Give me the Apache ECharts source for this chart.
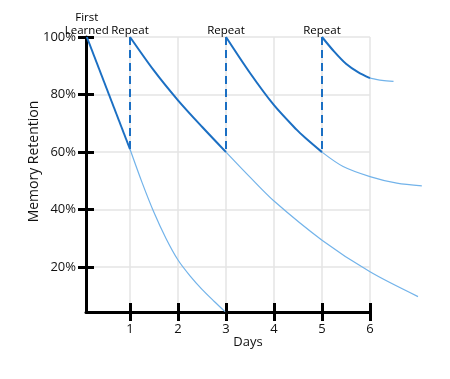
<!DOCTYPE html>
<html>
<head>
<meta charset="utf-8">
<script src="https://cdn.jsdelivr.net/npm/echarts@6/dist/echarts.min.js"></script>
<style>
html,body{margin:0;padding:0;background:#fff;}
#chart{width:450px;height:379px;}
</style>
</head>
<body>
<div id="chart"></div>
<script>
// ---- data (days, retention %) ----
const dayTicks = [1, 2, 3, 4, 5, 6];
const pctTicks = [20, 40, 60, 80, 100];
const firstCurve  = [[0.1, 100], [1, 61]];
const firstFade   = [[1, 61], [1.25, 49.5], [1.5, 39], [1.75, 30], [2, 22.5], [2.25, 17], [2.5, 12.3], [2.75, 8.2], [2.98, 4.6]];
const secondCurve = [[1, 100], [1.5, 88.3], [2, 78], [2.5, 68.8], [3, 60]];
const secondFade  = [[3, 60], [3.5, 51.3], [4, 43], [5, 29.4], [6, 18.4], [7, 9.8]];
const thirdCurve  = [[3, 100], [3.5, 87.5], [4, 76.3], [4.47, 67.8], [4.65, 65], [5, 60]];
const thirdFade   = [[5, 60], [5.44, 55], [6, 51.5], [6.56, 49.2], [7.08, 48.3]];
const fourthCurve = [[5, 100], [5.25, 95], [5.5, 90.7], [5.75, 87.8], [6, 85.7]];
const fourthFade  = [[6, 85.7], [6.25, 84.9], [6.49, 84.6]];
const repeatDays  = [1, 3, 5];
const repeatLows  = [61, 60, 60];
const markerDays  = [0.1, 1, 3, 5];
const markerLabels = ['First\nLearned', 'Repeat', 'Repeat', 'Repeat'];
const xMin = 0.083, xMax = 6, xMaxWide = 7.2, yMin = 4.45, yMax = 100;

const DARK = '#1b6fc3';
const LIGHT = '#72b3ea';
const FONT = '"Open Sans", "Noto Sans", sans-serif';

const chart = echarts.init(document.getElementById('chart'), null, {renderer: 'canvas'});

// pixel scale of main grid, reused by the wide overlay grid so both map identically
const gridLeft = 86, gridRight = 80, gridTop = 37, gridBottom = 67;
const pxPerDay = (450 - gridLeft - gridRight) / (xMax - xMin);
const wideRight = 450 - gridLeft - (xMaxWide - xMin) * pxPerDay;

function curve(data, thick) {
  return {
    type: 'line', data: data, smooth: 0.3, showSymbol: false, symbol: 'none',
    xAxisIndex: 2, yAxisIndex: 2,
    clip: false, silent: true, z: thick ? 4 : 3,
    lineStyle: {color: thick ? DARK : LIGHT, width: thick ? 2 : 1.2}
  };
}

const hiddenAxis = {
  show: true,
  axisLine: {show: false, onZero: false}, axisTick: {show: false},
  axisLabel: {show: false}, splitLine: {show: false}
};

const option = {
  backgroundColor: '#fff',
  animation: false,
  textStyle: {fontFamily: FONT},
  grid: [
    {left: gridLeft, right: gridRight, top: gridTop, bottom: gridBottom},
    {left: gridLeft, right: wideRight, top: gridTop, bottom: gridBottom}
  ],
  xAxis: [
    {
      type: 'value', gridIndex: 0, min: xMin, max: xMax, position: 'bottom',
      name: 'Days', nameLocation: 'middle', nameGap: 24, nameMoveOverlap: false,
      nameTextStyle: {color: '#111', fontSize: 13, fontFamily: FONT, padding: [0, 0, 0, 40]},
      axisLine: {onZero: false, lineStyle: {color: '#000', width: 3}},
      axisTick: {show: true, length: 9, customValues: dayTicks, lineStyle: {color: '#000', width: 3}},
      axisLabel: {customValues: dayTicks, margin: 11, color: '#111', fontSize: 13, fontFamily: FONT},
      splitLine: {show: true, lineStyle: {color: '#e4e4e4', width: 1.5}}
    },
    {
      type: 'value', gridIndex: 0, min: xMin, max: xMax, position: 'bottom',
      axisLine: {show: false, onZero: false},
      axisTick: {show: true, inside: true, length: 9, customValues: dayTicks, lineStyle: {color: '#000', width: 3}},
      axisLabel: {show: false},
      splitLine: {show: false}
    },
    Object.assign({type: 'value', gridIndex: 1, min: xMin, max: xMaxWide, position: 'bottom'}, hiddenAxis)
  ],
  yAxis: [
    {
      type: 'value', gridIndex: 0, min: yMin, max: yMax, position: 'left',
      name: 'Memory Retention', nameLocation: 'middle', nameGap: 45, nameMoveOverlap: false,
      nameTextStyle: {color: '#111', fontSize: 14, fontFamily: FONT, padding: [0, 0, 0, 26]},
      axisLine: {onZero: false, lineStyle: {color: '#000', width: 3}},
      axisTick: {show: true, length: 8, customValues: pctTicks, lineStyle: {color: '#000', width: 3}},
      axisLabel: {customValues: pctTicks, margin: 10, color: '#111', fontSize: 13, fontFamily: FONT,
                  formatter: v => v + '%'},
      splitLine: {show: true, lineStyle: {color: '#e4e4e4', width: 1.5}}
    },
    {
      type: 'value', gridIndex: 0, min: yMin, max: yMax, position: 'left',
      axisLine: {show: false, onZero: false},
      axisTick: {show: true, inside: true, length: 8, customValues: pctTicks, lineStyle: {color: '#000', width: 3}},
      axisLabel: {show: false},
      splitLine: {show: false}
    },
    Object.assign({type: 'value', gridIndex: 1, min: yMin, max: yMax, position: 'left'}, hiddenAxis)
  ],
  series: [
    curve(firstFade, false),
    curve(secondFade, false),
    curve(thirdFade, false),
    curve(fourthFade, false),
    curve(firstCurve, true),
    curve(secondCurve, true),
    curve(thirdCurve, true),
    curve(fourthCurve, true),
    {
      type: 'line', data: [], silent: true, xAxisIndex: 2, yAxisIndex: 2,
      markLine: {
        silent: true, symbol: 'none', animation: false,
        label: {show: false},
        lineStyle: {color: DARK, width: 2, type: [8, 5]},
        data: repeatDays.map((d, i) => [{coord: [d, yMax]}, {coord: [d, repeatLows[i]]}])
      }
    }
  ]
};
chart.setOption(option);

// event labels above each learning / repeat point, positioned through the chart's own scale
chart.setOption({
  graphic: markerDays.map((d, i) => {
    const p = chart.convertToPixel({xAxisIndex: 2, yAxisIndex: 2}, [d, yMax]);
    return {
      type: 'text', x: p[0], y: p[1] + 0.5, z: 100,
      style: {text: markerLabels[i], fill: '#000', font: '11.5px ' + FONT,
              lineHeight: 13.5, align: 'center', verticalAlign: 'bottom'}
    };
  })
});
</script>
</body>
</html>
